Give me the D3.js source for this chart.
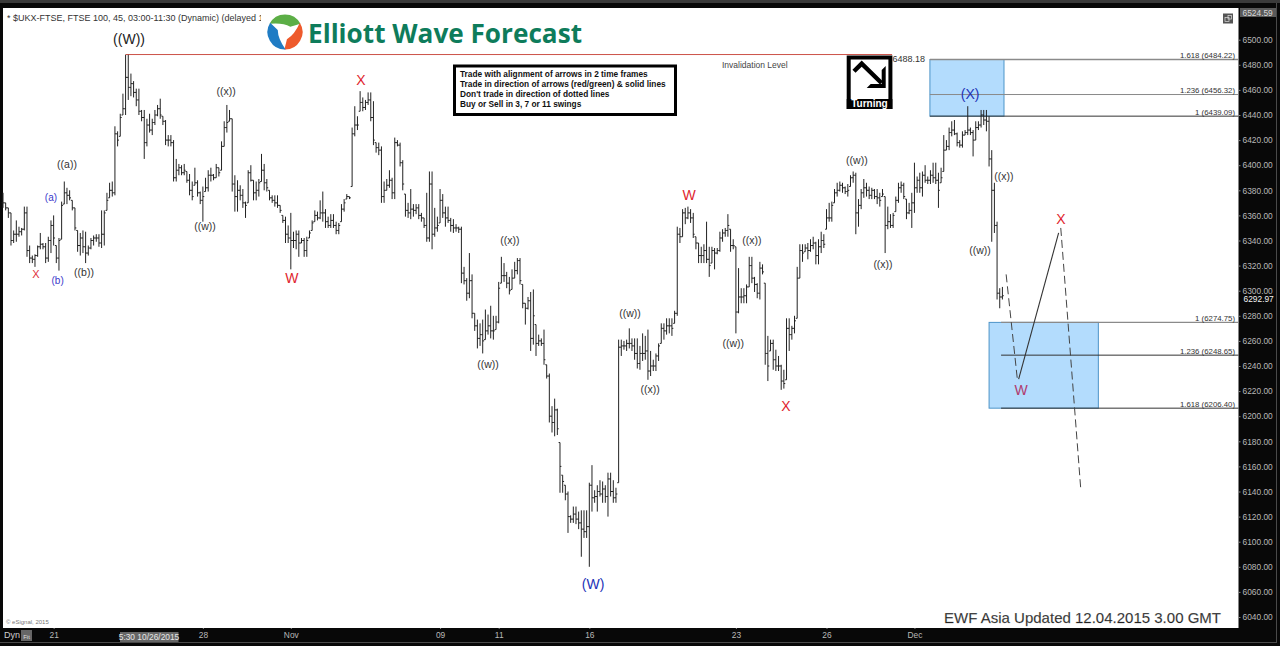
<!DOCTYPE html>
<html>
<head>
<meta charset="utf-8">
<script src="https://d3js.org/d3.v7.min.js"></script>
<style>
  html, body { margin: 0; padding: 0; background: #080808; }
  svg { display: block; font-family: "Liberation Sans", Arial, sans-serif; }
</style>
</head>
<body>
<svg id="chart" width="1280" height="646"></svg>
<script>
// 45 min bars
const highs = [
  6378,6370,6366,6362,6348,6356,6351,6350,6367,6367,
  6336,6328,6329,6336,6346,6338,6338,6343,6356,6360,
  6336,6342,6371,6387,6382,6380,6372,6366,6348,6346,
  6348,6347,6336,6342,6344,6345,6345,6364,6364,6378,
  6386,6387,6431,6427,6441,6457,6488,6488,6473,6467,
  6461,6461,6444,6444,6437,6441,6437,6444,6448,6453,
  6439,6436,6424,6424,6420,6405,6401,6400,6401,6395,
  6393,6387,6398,6388,6379,6383,6390,6396,6398,6393,
  6401,6398,6419,6435,6448,6444,6437,6392,6388,6384,
  6381,6371,6396,6400,6388,6387,6389,6409,6401,6389,
  6380,6376,6376,6376,6368,6360,6359,6352,6362,6347,
  6348,6348,6342,6342,6343,6348,6356,6364,6363,6372,
  6379,6365,6359,6361,6361,6355,6354,6369,6373,6377,
  6375,6430,6447,6439,6459,6454,6452,6458,6458,6451,
  6418,6418,6415,6387,6389,6396,6390,6422,6420,6418,
  6404,6377,6370,6381,6369,6369,6369,6362,6358,6378,
  6395,6395,6366,6359,6381,6377,6367,6367,6358,6357,
  6353,6351,6351,6319,6310,6330,6313,6282,6277,6274,
  6277,6285,6281,6288,6280,6280,6307,6327,6322,6315,
  6311,6317,6323,6326,6326,6305,6290,6295,6299,6301,
  6273,6265,6262,6269,6241,6234,6208,6214,6206,6179,
  6153,6145,6140,6121,6128,6128,6124,6125,6125,6125,
  6147,6161,6141,6145,6149,6148,6145,6155,6155,6149,
  6143,6261,6261,6260,6261,6270,6262,6262,6262,6256,
  6266,6264,6269,6252,6245,6250,6258,6274,6274,6278,
  6278,6278,6284,6351,6350,6365,6366,6367,6365,6362,
  6343,6338,6335,6337,6355,6335,6335,6334,6334,6347,
  6349,6350,6361,6349,6341,6335,6318,6302,6302,6305,
  6327,6327,6311,6306,6323,6321,6306,6264,6261,6261,
  6253,6248,6241,6237,6278,6278,6272,6280,6319,6337,
  6337,6337,6338,6341,6343,6339,6341,6347,6345,6365,
  6370,6371,6381,6386,6387,6386,6383,6385,6392,6395,
  6394,6373,6381,6389,6386,6383,6382,6381,6381,6378,
  6381,6375,6367,6361,6362,6375,6386,6387,6386,6373,
  6370,6378,6402,6391,6394,6395,6400,6391,6396,6402,
  6402,6394,6398,6424,6420,6430,6435,6436,6426,6420,
  6427,6428,6447,6430,6428,6435,6435,6444,6444,6444,
  6439,6412,6386,6355,6302,6303
];
const lows = [
  6366,6364,6358,6336,6338,6339,6343,6344,6348,6327,
  6322,6322,6319,6327,6333,6333,6322,6323,6330,6336,
  6322,6316,6341,6369,6369,6372,6364,6348,6331,6328,
  6330,6322,6328,6333,6336,6339,6335,6334,6336,6364,
  6374,6375,6376,6415,6423,6440,6440,6452,6455,6454,
  6447,6440,6435,6405,6415,6426,6424,6432,6439,6437,
  6432,6416,6415,6415,6387,6387,6392,6392,6392,6386,
  6376,6372,6384,6375,6369,6355,6379,6379,6387,6388,
  6390,6391,6396,6415,6426,6435,6379,6363,6363,6372,
  6366,6358,6370,6387,6372,6372,6375,6387,6380,6379,
  6372,6370,6367,6366,6362,6354,6338,6338,6317,6334,
  6333,6327,6338,6327,6327,6342,6348,6355,6356,6357,
  6355,6350,6350,6350,6350,6345,6345,6355,6363,6373,
  6373,6383,6423,6428,6443,6443,6444,6448,6435,6416,
  6410,6408,6370,6370,6380,6382,6373,6373,6415,6399,
  6380,6359,6358,6357,6359,6361,6357,6355,6350,6339,
  6339,6333,6343,6347,6354,6358,6351,6354,6347,6346,
  6347,6346,6306,6305,6292,6294,6278,6268,6254,6256,
  6250,6261,6265,6262,6261,6269,6274,6306,6307,6302,
  6297,6301,6310,6313,6305,6286,6273,6285,6252,6257,
  6248,6256,6256,6241,6230,6195,6187,6184,6185,6139,
  6139,6133,6107,6115,6115,6114,6110,6088,6103,6103,
  6080,6124,6131,6124,6136,6131,6131,6120,6136,6131,
  6131,6147,6248,6253,6252,6254,6252,6245,6238,6237,
  6244,6245,6229,6232,6236,6236,6244,6258,6261,6265,
  6266,6264,6274,6280,6338,6343,6353,6357,6354,6342,
  6333,6322,6322,6322,6322,6311,6322,6317,6329,6331,
  6339,6343,6343,6331,6333,6266,6282,6290,6290,6290,
  6303,6306,6299,6294,6293,6313,6241,6228,6252,6237,
  6236,6236,6221,6222,6229,6252,6261,6266,6278,6310,
  6323,6331,6325,6331,6333,6321,6321,6330,6334,6349,
  6355,6355,6370,6375,6379,6378,6377,6375,6383,6386,
  6345,6351,6365,6374,6375,6373,6373,6373,6369,6367,
  6375,6330,6349,6350,6350,6363,6370,6378,6373,6357,
  6361,6350,6362,6378,6378,6375,6386,6385,6385,6386,
  6385,6366,6386,6395,6412,6412,6423,6424,6415,6414,
  6414,6424,6424,6424,6407,6420,6428,6430,6432,6427,
  6399,6339,6346,6293,6286,6293
];
const closes = [
  6370,6366,6362,6340,6345,6345,6347,6349,6362,6332,
  6326,6325,6328,6335,6337,6335,6326,6340,6352,6342,
  6326,6340,6368,6378,6376,6374,6366,6350,6336,6342,
  6335,6330,6334,6340,6342,6342,6338,6345,6362,6372,
  6380,6378,6425,6420,6438,6445,6470,6462,6465,6458,
  6452,6443,6438,6418,6432,6428,6434,6440,6445,6440,
  6435,6420,6420,6418,6390,6396,6398,6394,6396,6388,
  6380,6375,6386,6378,6372,6375,6382,6392,6392,6390,
  6398,6394,6415,6430,6434,6437,6385,6375,6380,6376,
  6370,6368,6394,6388,6378,6380,6386,6396,6386,6382,
  6374,6372,6370,6368,6364,6356,6345,6342,6340,6340,
  6345,6338,6340,6332,6340,6346,6354,6360,6358,6362,
  6362,6355,6352,6356,6352,6348,6352,6365,6370,6375,
  6374,6425,6432,6432,6450,6446,6450,6452,6438,6420,
  6414,6412,6375,6380,6384,6388,6378,6418,6416,6402,
  6385,6364,6362,6365,6364,6366,6360,6358,6352,6342,
  6385,6345,6350,6352,6372,6362,6358,6356,6352,6350,
  6350,6349,6314,6308,6298,6308,6282,6272,6262,6265,
  6260,6268,6272,6268,6268,6275,6302,6312,6312,6306,
  6300,6310,6316,6324,6308,6290,6286,6292,6262,6280,
  6258,6260,6258,6245,6232,6200,6195,6205,6190,6160,
  6148,6138,6120,6118,6122,6118,6115,6110,6108,6112,
  6145,6135,6136,6140,6138,6142,6136,6150,6140,6135,
  6138,6255,6256,6256,6258,6258,6256,6250,6242,6250,
  6250,6252,6236,6240,6240,6248,6256,6270,6268,6272,
  6272,6270,6282,6345,6343,6362,6358,6362,6358,6345,
  6338,6328,6328,6332,6325,6320,6332,6330,6332,6342,
  6346,6348,6352,6336,6336,6283,6295,6295,6296,6303,
  6320,6310,6305,6298,6318,6315,6250,6240,6258,6245,
  6240,6240,6228,6226,6270,6265,6270,6276,6310,6332,
  6330,6334,6332,6336,6338,6328,6335,6340,6337,6358,
  6358,6368,6378,6380,6384,6382,6379,6380,6390,6392,
  6362,6368,6378,6382,6380,6376,6380,6375,6374,6372,
  6377,6352,6355,6352,6360,6372,6382,6384,6375,6362,
  6364,6370,6382,6388,6382,6392,6388,6388,6392,6390,
  6388,6380,6390,6412,6415,6426,6428,6425,6418,6416,
  6424,6426,6428,6426,6420,6430,6432,6440,6436,6435,
  6405,6380,6352,6298,6295,6296
];

const priceTicks = [6040,6060,6080,6100,6120,6140,6160,6180,6200,6220,6240,6260,6280,6300,6320,6340,6360,6380,6400,6420,6440,6460,6480,6500];
const dateBars = [19,75,108,164,186,220,275,309,342];
const dateLabels = ['21','28','Nov','09','11','16','23','26','Dec'];

const fibLevels = [6484.22,6456.32,6439.09,6274.75,6248.65,6206.40];
const fibRatios = ['1.618','1.236','1','1','1.236','1.618'];
const fibStartBars = [347.8,347.8,347.8,374.5,374.5,374.5];

const zoneBars = [[347.8,375.6],[370,411]];
const zonePrices = [[6484.22,6439.09],[6274.75,6206.40]];

const invalidation = 6488.18;
const invalidationBars = [46,333.6];
const lastPrice = 6292.97;
const topPrice = 6524.59;

const pathABars = [376.4,380.6];
const pathAPrices = [6313,6229.6];
const pathBBars = [381.1,396.1];
const pathBPrices = [6229.6,6346];
const pathCBars = [396.9,404.4];
const pathCPrices = [6350,6142];

const waveText = ['((W))','X','(b)','(a)','((a))','((b))','((w))','((x))','W','X','((x))','((w))','((w))','((x))','(W)','W','((x))','((w))','X','((w))','((x))','(X)','((x))','((w))','X','W'];
const waveBars = [47.3,12.4,20.5,18,24,30.4,75.8,83.7,108.4,134.3,190.2,182,235.3,242.8,221.4,257.4,281,274,293.8,320.4,330.2,362.9,375.6,366.6,397,382];
const wavePrices = [6500.5,6313.3,6308.5,6374,6401,6315,6351,6459,6310,6468,6340,6241.5,6282,6221.6,6066,6376,6340,6258,6208,6404,6321,6457,6391,6332,6357,6221];
const waveKinds = ['cycle','redSmall','blueSmall','blueSmall','sub','sub','sub','sub','red','red','sub','sub','sub','sub','blue','red','sub','sub','red','sub','sub','blue','sub','sub','red','purple'];

const rules = [
  'Trade with alignment of arrows in 2 time frames',
  'Trade in direction of arrows (red/green) & solid lines',
  "Don't trade in direction of dotted lines",
  'Buy or Sell in 3, 7 or 11 swings'
];

const waveStyle = {
  cycle: { fill: '#222', size: 14 },
  sub: { fill: '#333', size: 10.5 },
  red: { fill: '#e01f2f', size: 14 },
  redSmall: { fill: '#e0303a', size: 11 },
  blue: { fill: '#2433b8', size: 14 },
  blueSmall: { fill: '#3a3acb', size: 10 },
  purple: { fill: '#b03a6e', size: 14 }
};

const plot = { left: 3, top: 8, right: 1238.5, bottom: 628 };

const svg = d3.select('#chart');

const x = d3.scaleLinear().domain([0, 375]).range([3, 1002.4]);
const y = d3.scaleLinear().domain([6040, 6500]).range([617, 39.7]);

// frame
svg.append('rect').attr('width', 1280).attr('height', 646).attr('fill', '#080808');
svg.append('rect').attr('width', 1280).attr('height', 3).attr('fill', '#3a3a3a');
svg.append('rect').attr('x', 0).attr('y', 642).attr('width', 1277).attr('height', 1).attr('fill', '#4a4a4a');
svg.append('rect').attr('x', 1276).attr('y', 3).attr('width', 1).attr('height', 640).attr('fill', '#4a4a4a');
svg.append('rect')
  .attr('x', plot.left).attr('y', plot.top)
  .attr('width', plot.right - plot.left).attr('height', plot.bottom - plot.top)
  .attr('fill', '#fff');

// blue zones, under the bars
zoneBars.forEach((bars, i) => {
  svg.append('rect')
    .attr('x', x(bars[0])).attr('y', y(zonePrices[i][0]))
    .attr('width', x(bars[1]) - x(bars[0]))
    .attr('height', y(zonePrices[i][1]) - y(zonePrices[i][0]))
    .attr('fill', '#b3dcfd')
    .attr('stroke', '#4d94c8')
    .attr('stroke-width', 1);
});

// fib levels
fibLevels.forEach((level, i) => {
  let colour = (i === 0 || i === 1 || i === 3) ? '#8a8a8a' : '#333';
  svg.append('line')
    .attr('x1', x(fibStartBars[i])).attr('x2', plot.right)
    .attr('y1', y(level)).attr('y2', y(level))
    .attr('stroke', colour)
    .attr('stroke-width', (i === 0 || i === 3) ? 1.3 : 1);
  svg.append('text')
    .attr('x', 1235).attr('y', y(level) - 1.5)
    .attr('text-anchor', 'end')
    .attr('font-size', 7.8)
    .attr('fill', '#333')
    .text(`${fibRatios[i]} (${level.toFixed(2)})`);
});

// invalidation line
svg.append('line')
  .attr('x1', x(invalidationBars[0])).attr('x2', x(invalidationBars[1]))
  .attr('y1', y(invalidation)).attr('y2', y(invalidation))
  .attr('stroke', '#cc5248').attr('stroke-width', 1);
svg.append('text')
  .attr('x', 892.5).attr('y', y(invalidation) + 7)
  .attr('font-size', 9).attr('fill', '#333')
  .text(invalidation.toFixed(2));
svg.append('text')
  .attr('x', 722).attr('y', 68)
  .attr('font-size', 8.5).attr('fill', '#444')
  .text('Invalidation Level');

// bars
const barG = svg.append('g').attr('stroke', '#222').attr('stroke-width', 1).attr('fill', 'none');
barG.selectAll('path')
  .data(highs)
  .join('path')
  .attr('d', (d, i) => {
    let open = i === 0 ? closes[0] : Math.min(highs[i], Math.max(lows[i], closes[i - 1]));
    return `M${x(i)},${y(highs[i])}V${y(lows[i])}` +
      `M${x(i) - 1.4},${y(open)}H${x(i)}` +
      `M${x(i)},${y(closes[i])}H${x(i) + 1.4}`;
  });

// projected path
const pathLine = d3.line().x(d => x(d[0])).y(d => y(d[1]));
svg.append('path')
  .attr('d', pathLine(d3.zip(pathABars, pathAPrices)))
  .attr('fill', 'none').attr('stroke', '#444').attr('stroke-dasharray', '8,4');
svg.append('path')
  .attr('d', pathLine(d3.zip(pathBBars, pathBPrices)))
  .attr('fill', 'none').attr('stroke', '#333').attr('stroke-width', 1.1);
svg.append('path')
  .attr('d', pathLine(d3.zip(pathCBars, pathCPrices)))
  .attr('fill', 'none').attr('stroke', '#444').attr('stroke-dasharray', '8,4');

// wave labels
svg.append('g').selectAll('text')
  .data(waveText)
  .join('text')
  .attr('x', (d, i) => x(waveBars[i]))
  .attr('y', (d, i) => y(wavePrices[i]))
  .attr('dy', '0.36em')
  .attr('text-anchor', 'middle')
  .attr('font-size', (d, i) => waveStyle[waveKinds[i]].size)
  .attr('fill', (d, i) => waveStyle[waveKinds[i]].fill)
  .text(d => d);

// chart title, cut off by the logo like in the platform
svg.append('clipPath').attr('id', 'titleClip')
  .append('rect').attr('x', 0).attr('y', 8).attr('width', 261).attr('height', 20);
svg.append('text')
  .attr('clip-path', 'url(#titleClip)')
  .attr('x', 7).attr('y', 21)
  .attr('font-size', 9).attr('fill', '#333')
  .text('* $UKX-FTSE, FTSE 100, 45, 03:00-11:30 (Dynamic) (delayed 15 mins)');

// logo, three swooshes turned around the centre
const logoColours = ['#5cae46', '#ee5a2c', '#1f7cc4'];
const logoPoint = (deg, r) => {
  let a = deg * Math.PI / 180;
  return `${r * Math.sin(a)},${-r * Math.cos(a)}`;
};
const logo = svg.append('g').attr('transform', 'translate(285,32)');
logoColours.forEach((colour, i) => {
  logo.append('path')
    .attr('transform', `rotate(${i * 120})`)
    .attr('d', `M${logoPoint(-62, 17.5)}A17.5,17.5 0 0 1 ${logoPoint(62, 17.5)}` +
      `L${logoPoint(45, 7.5)}Q${logoPoint(-15, 10)} ${logoPoint(-62, 17.5)}Z`)
    .attr('fill', colour);
});
svg.append('text')
  .attr('x', 308).attr('y', 43)
  .attr('font-family', '"Open Sans", sans-serif')
  .attr('font-weight', 700)
  .attr('font-size', 27)
  .attr('fill', '#0e7c5b')
  .attr('textLength', 274)
  .attr('lengthAdjust', 'spacingAndGlyphs')
  .text('Elliott Wave Forecast');

// rules box
svg.append('rect')
  .attr('x', 454.5).attr('y', 66).attr('width', 221).attr('height', 48.5)
  .attr('fill', '#fff').attr('stroke', '#000').attr('stroke-width', 3);
svg.append('g').selectAll('text')
  .data(rules)
  .join('text')
  .attr('x', 460)
  .attr('y', (d, i) => 77 + i * 10)
  .attr('font-size', 8.3)
  .attr('font-weight', 700)
  .attr('fill', '#111')
  .text(d => d);

// turning box
svg.append('rect')
  .attr('x', 848.7).attr('y', 57.5).attr('width', 41.7).attr('height', 49.5)
  .attr('fill', '#fff').attr('stroke', '#000').attr('stroke-width', 4);
svg.append('rect')
  .attr('x', 846.7).attr('y', 99).attr('width', 45.7).attr('height', 10)
  .attr('fill', '#000');
svg.append('path')
  .attr('d', 'M854,71.3L861.7,63.7L881.5,83')
  .attr('fill', 'none').attr('stroke', '#000').attr('stroke-width', 4.4);
svg.append('path')
  .attr('d', 'M885.7,66V88H866.7L870.7,84H881.7V70Z')
  .attr('fill', '#000');
svg.append('text')
  .attr('x', 869.5).attr('y', 107.2)
  .attr('text-anchor', 'middle')
  .attr('font-size', 10).attr('font-weight', 700)
  .attr('fill', '#fff')
  .text('Turning');

// window icon
svg.append('rect')
  .attr('x', 1223).attr('y', 13.5).attr('width', 10).attr('height', 10)
  .attr('fill', '#555');
svg.append('rect')
  .attr('x', 1225).attr('y', 17.5).attr('width', 4).attr('height', 4)
  .attr('fill', 'none').attr('stroke', '#ddd').attr('stroke-width', 0.7);
svg.append('rect')
  .attr('x', 1228).attr('y', 15.5).attr('width', 3.5).attr('height', 3.5)
  .attr('fill', 'none').attr('stroke', '#ddd').attr('stroke-width', 0.7);

// price axis
const yAxis = d3.axisRight(y)
  .tickValues(priceTicks)
  .tickFormat(d3.format('.2f'))
  .tickSize(2)
  .tickPadding(2);
const yAxisG = svg.append('g').attr('transform', `translate(${plot.right},0)`).call(yAxis);
yAxisG.select('.domain').remove();
yAxisG.selectAll('line').attr('stroke', '#888');
yAxisG.selectAll('text')
  .attr('font-family', '"Liberation Sans", Arial, sans-serif')
  .attr('font-size', 8.4)
  .attr('fill', '#b8b8b8');

svg.append('rect')
  .attr('x', 1240).attr('y', 8).attr('width', 36).attr('height', 9)
  .attr('fill', '#5a5a5a');
svg.append('text')
  .attr('x', 1242.5).attr('y', 15.5)
  .attr('font-size', 8.4).attr('fill', '#d8d8d8')
  .text(topPrice.toFixed(2));
svg.append('text')
  .attr('x', 1243.5).attr('y', y(lastPrice))
  .attr('dy', '0.3em')
  .attr('font-size', 8.4).attr('fill', '#f2f2f2')
  .text(lastPrice.toFixed(2));

// date axis
const xAxis = d3.axisBottom(x)
  .tickValues(dateBars)
  .tickFormat((d, i) => dateLabels[i])
  .tickSize(1)
  .tickPadding(3);
const xAxisG = svg.append('g').attr('transform', `translate(0,${plot.bottom})`).call(xAxis);
xAxisG.select('.domain').remove();
xAxisG.selectAll('line').attr('stroke', '#888');
xAxisG.selectAll('text')
  .attr('font-family', '"Liberation Sans", Arial, sans-serif')
  .attr('font-size', 8.4)
  .attr('fill', '#b8b8b8');

// crosshair date box and the bottom left controls
svg.append('rect')
  .attr('x', 120).attr('y', 632).attr('width', 58.5).attr('height', 10)
  .attr('fill', '#666');
svg.append('text')
  .attr('x', 149).attr('y', 640)
  .attr('text-anchor', 'middle')
  .attr('font-size', 8.4).attr('fill', '#e6e6e6')
  .text('5:30 10/26/2015');
svg.append('text')
  .attr('x', 4).attr('y', 638)
  .attr('font-size', 9).attr('fill', '#d0d0d0')
  .text('Dyn');
svg.append('rect')
  .attr('x', 21).attr('y', 630).attr('width', 11).attr('height', 11)
  .attr('fill', '#666');
svg.append('text')
  .attr('x', 26.5).attr('y', 638.5)
  .attr('text-anchor', 'middle')
  .attr('font-size', 6).attr('fill', '#ddd')
  .text('Fit');

svg.append('text')
  .attr('x', 6).attr('y', 624)
  .attr('font-size', 6).attr('fill', '#777')
  .text('© eSignal, 2015');
svg.append('text')
  .attr('x', 944).attr('y', 623)
  .attr('font-size', 15).attr('fill', '#222')
  .attr('stroke', '#999').attr('stroke-width', 0.25)
  .attr('textLength', 277)
  .text('EWF Asia Updated 12.04.2015 3.00 GMT');
</script>
</body>
</html>
